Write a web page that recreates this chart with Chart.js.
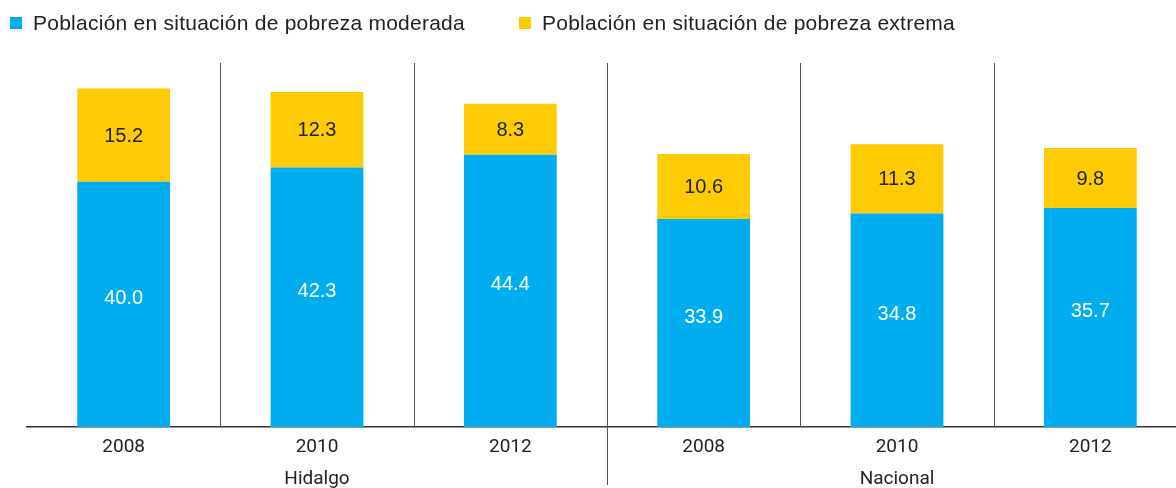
<!DOCTYPE html>
<html>
<head>
<meta charset="utf-8">
<script src="https://cdn.jsdelivr.net/npm/chart.js@4.4.1/dist/chart.umd.min.js"></script>
<style>
    html, body { margin: 0; padding: 0; background: #fff; overflow: hidden; }
    #wrap { position: relative; width: 1190px; height: 488px; }
    #legend { position: absolute; left: 0; top: 0; font-family: "Liberation Sans", Arial, sans-serif; font-size: 21px; letter-spacing: 0.25px; color: #222; }
    .item { position: absolute; top: 10px; white-space: nowrap; line-height: 25px; }
    .box { position: absolute; top: 7px; width: 12px; height: 12px; }
    .txt { position: absolute; left: 23px; top: 0; }
</style>
</head>
<body>
<div id="wrap">
    <canvas id="pobreza_chart" width="1190" height="488"></canvas>
    <div id="legend"></div>
</div>
<script>
// categories (year, group label on the middle bar)
var years = ["2008", ["2010", "Hidalgo"], "2012", "2008", ["2010", "Nacional"], "2012"];
var moderada = [40.0, 42.3, 44.4, 33.9, 34.8, 35.7];
var extrema = [15.2, 12.3, 8.3, 10.6, 11.3, 9.8];
var seriesNames = ["Población en situación de pobreza moderada", "Población en situación de pobreza extrema"];
var seriesColors = ["#00aeef", "#ffcb05"];
var labelColors = ["#ffffff", "#222222"];

//html legend
var legendX = [10, 519];
var legend = document.getElementById("legend");
for (var i = 0; i < seriesNames.length; i++) {
    var item = document.createElement("div");
    item.className = "item";
    item.style.left = legendX[i] + "px";
    item.innerHTML = '<span class="box" style="background:' + seriesColors[i] + '"></span><span class="txt">' + seriesNames[i] + '</span>';
    legend.appendChild(item);
}

//separator lines between the bars
var separators = {
    id: "separators",
    afterDatasetsDraw: function(chart) {
        var ctx = chart.ctx;
        var xs = chart.scales.x;
        var area = chart.chartArea;
        ctx.save();
        ctx.strokeStyle = "#555";
        ctx.lineWidth = 1;
        for (var i = 1; i < years.length; i++) {
            var x = Math.round((xs.getPixelForValue(i - 1) + xs.getPixelForValue(i)) / 2) + 0.5;
            var bottom = (i == 3) ? chart.height - 3 : area.bottom;
            ctx.beginPath();
            ctx.moveTo(x, area.top + 4);
            ctx.lineTo(x, bottom);
            ctx.stroke();
        }
        ctx.restore();
    }
};

//value labels in the middle of each segment
var valueLabels = {
    id: "valueLabels",
    afterDatasetsDraw: function(chart) {
        var ctx = chart.ctx;
        ctx.save();
        ctx.font = "20px 'Liberation Sans', Arial, sans-serif";
        ctx.textAlign = "center";
        ctx.textBaseline = "middle";
        chart.data.datasets.forEach(function(ds, d) {
            var meta = chart.getDatasetMeta(d);
            var shift = (d == 0) ? -6 : 1;
            ctx.fillStyle = labelColors[d];
            meta.data.forEach(function(bar, i) {
                ctx.fillText(ds.data[i].toFixed(1), bar.x, (bar.y + bar.base) / 2 + shift);
            });
        });
        ctx.restore();
    }
};

var chartdata = {
    labels: years,
    datasets: [{
        label: seriesNames[0],
        backgroundColor: seriesColors[0],
        data: moderada,
    }, {
        label: seriesNames[1],
        backgroundColor: seriesColors[1],
        data: extrema,
    }, ],
};

var canvas = document.getElementById("pobreza_chart");

var pobreza_chart = new Chart(canvas, {
    type: "bar",
    data: chartdata,
    options: {
        responsive: false,
        animation: false,
        layout: {
            padding: { left: 27, right: 3, top: 59, bottom: 0 }
        },
        datasets: {
            bar: { barPercentage: 0.48, categoryPercentage: 1 }
        },
        plugins: {
            legend: { display: false },
            tooltip: { enabled: false }
        },
        scales: {
            x: {
                stacked: true,
                grid: { display: false, drawTicks: false },
                border: { display: true, color: "#333", width: 1.5 },
                ticks: {
                    color: "#222",
                    padding: 5,
                    maxRotation: 0,
                    font: { family: "Roboto, sans-serif", size: 19, lineHeight: 1.65 }
                },
                afterFit: function(scale) {
                    scale.height = 61;
                }
            },
            y: {
                stacked: true,
                display: false,
                min: 0,
                max: 60
            }
        }
    },
    plugins: [separators, valueLabels]
});
</script>
</body>
</html>
